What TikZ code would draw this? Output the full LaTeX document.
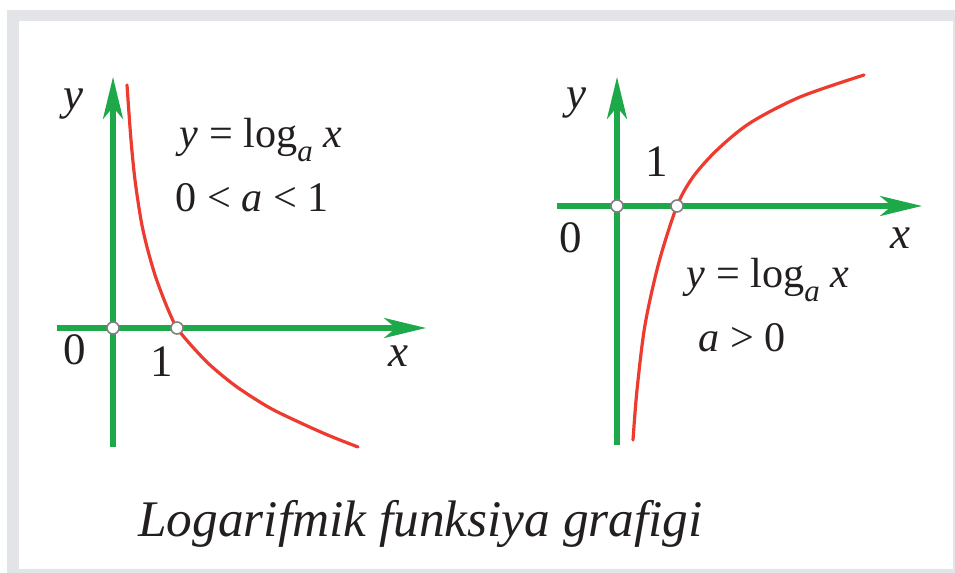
\documentclass[tikz,border=0pt]{standalone}
\usepackage{fontspec}
\setmainfont{Liberation Serif}
\usepackage{tikz}
\usetikzlibrary{arrows.meta,calc}
\newcommand{\subidx}[1]{\raisebox{-.32em}{\fontsize{22}{22}\selectfont\textit{#1}}}

\begin{document}
\begin{tikzpicture}[x=.25mm,y=-.25mm,
 axis/.style={-{Stealth[length=10.5mm,width=5mm,inset=3mm]},line width=1.3mm,draw=axisgreen},
 graph/.style={line width=.8mm,draw=curvered,line cap=round},
 dot/.style={circle,draw=black!50,fill=white,line width=.4mm,minimum size=3mm,inner sep=0pt},
 lbl/.style={font=\fontsize{32}{36}\selectfont,text=textdark,inner sep=0pt},
 formula/.style={font=\fontsize{30}{34}\selectfont,text=textdark,inner sep=0pt,anchor=base}]
\definecolor{axisgreen}{HTML}{1DA84A}
\definecolor{curvered}{HTML}{EE3B30}
\definecolor{framegray}{HTML}{E3E4E8}
\definecolor{textdark}{HTML}{231F20}
\useasboundingbox (0,0) rectangle (955,573);
\fill[framegray] (7,10) rectangle (955,573);
\fill[white] (19,21) rectangle (953,569);
% left graph: 0<a<1
\coordinate (lxs) at (57,328);
\coordinate (lxe) at (426,328);
\coordinate (lys) at (113,447);
\coordinate (lye) at (113,77);
\draw[axis] (lxs)--(lxe);
\draw[axis] (lys)--(lye);
\draw[graph] plot[smooth] coordinates {(127,85) (131,140) (135,180) (141,220) (147,247) (155,275) (163,297) (170,314) (177,328) (190,344) (210,365) (237,387) (270,408) (303,424) (330,436) (358,447)};
\node[dot] (lo) at (113,328) {};
\node[dot] (lone) at (177,328) {};
\node[lbl] (ly) at (73,104) {\textit{y}};
\node[lbl] (lx) at (398,356) {\textit{x}};
\node[lbl] (lzero) at (75,350) {0};
\node[lbl] (lonelbl) at (162,362) {1};
\node[formula] (lf) at (261,148) {\textit{y} = log\subidx{a} \textit{x}};
\node[formula] (lcond) at (252,212) {0 < \textit{a} < 1};
% right graph: a>1
\coordinate (rxs) at (557,206);
\coordinate (rxe) at (922,206);
\coordinate (rys) at (617,445);
\coordinate (rye) at (617,77);
\draw[axis] (rxs)--(rxe);
\draw[axis] (rys)--(rye);
\draw[graph] plot[smooth] coordinates {(633,440) (637,390) (645,325) (659,262) (677,206) (693,177) (717,150) (750,123) (800,97) (864,75)};
\node[dot] (ro) at (617,206) {};
\node[dot] (rone) at (677,206) {};
\node[lbl] (ry) at (576,103) {\textit{y}};
\node[lbl] (rx) at (900,238) {\textit{x}};
\node[lbl] (rzero) at (571,238) {0};
\node[lbl] (ronelbl) at (657,162) {1};
\node[formula] (rf) at (768,288) {\textit{y} = log\subidx{a} \textit{x}};
\node[formula] (rcond) at (742,352) {\textit{a} > 0};
% caption
\node[font=\fontsize{36.5}{40}\selectfont\itshape,text=textdark,inner sep=0pt,anchor=base west] (cap) at (138,537) {Logarifmik funksiya grafigi};
\end{tikzpicture}
\end{document}
